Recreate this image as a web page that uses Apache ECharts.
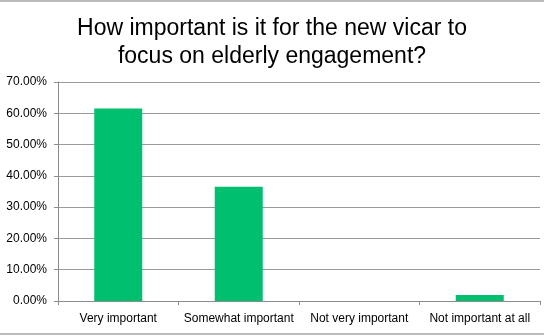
<!DOCTYPE html>
<html>
<head>
<meta charset="utf-8">
<script src="https://cdn.jsdelivr.net/npm/echarts@6/dist/echarts.min.js"></script>
<style>
  html, body { margin: 0; padding: 0; background: #fff; }
  #chart { width: 544px; height: 336px; }
</style>
</head>
<body>
<div id="chart"></div>
<script>
// Survey answers and share of respondents (percent)
const categories = ['Very important', 'Somewhat important', 'Not very important', 'Not important at all'];
const shares = [61.5, 36.5, 0, 1.9];
const titleText = 'How important is it for the new vicar to\nfocus on elderly engagement?';

const chart = echarts.init(document.getElementById('chart'), null, { renderer: 'canvas' });

chart.setOption({
  animation: false,
  backgroundColor: '#ffffff',
  title: {
    text: titleText,
    left: 'center',
    top: 10,
    textStyle: {
      fontFamily: 'Liberation Sans, Arial, sans-serif',
      fontSize: 23,
      fontWeight: 'normal',
      color: '#000',
      lineHeight: 28
    }
  },
  graphic: [{
    type: 'rect',
    shape: { x: -2, y: 1, width: 548, height: 333 },
    style: { fill: 'none', stroke: '#a6a6a6', lineWidth: 1.5 },
    silent: true
  }],
  grid: { left: 58, right: 4, top: 82, bottom: 35, containLabel: false },
  xAxis: {
    type: 'category',
    data: categories,
    axisLine: { lineStyle: { color: '#8c8c8c', width: 1 } },
    axisTick: { show: true, length: 4, lineStyle: { color: '#8c8c8c' } },
    axisLabel: {
      fontFamily: 'Liberation Sans, Arial, sans-serif',
      fontSize: 12,
      color: '#000',
      margin: 12,
      interval: 0
    }
  },
  yAxis: {
    type: 'value',
    min: 0,
    max: 70,
    interval: 10,
    axisLine: { show: true, lineStyle: { color: '#8c8c8c', width: 1 } },
    axisTick: { show: true, length: 4, lineStyle: { color: '#8c8c8c' } },
    splitLine: { lineStyle: { color: '#9a9a9a', width: 1 } },
    axisLabel: {
      fontFamily: 'Liberation Sans, Arial, sans-serif',
      fontSize: 12,
      color: '#000',
      margin: 11,
      formatter: v => v.toFixed(2) + '%'
    }
  },
  series: [{
    type: 'bar',
    data: shares,
    barWidth: 48,
    itemStyle: { color: '#00bf6f' }
  }]
});
</script>
</body>
</html>
